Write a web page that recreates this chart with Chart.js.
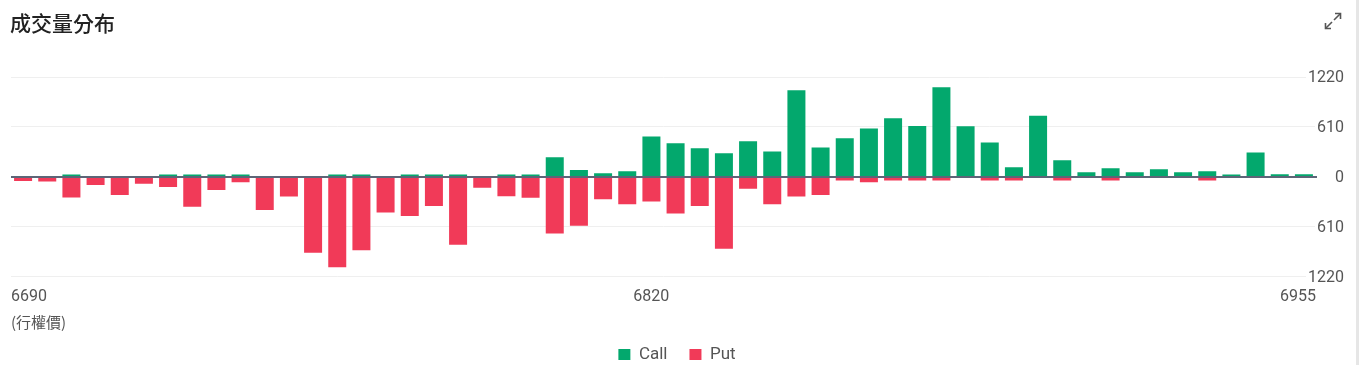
<!DOCTYPE html>
<html>
<head>
<meta charset="utf-8">
<script src="https://cdn.jsdelivr.net/npm/chart.js@4.4.1/dist/chart.umd.min.js"></script>
<style>
  html, body { margin: 0; padding: 0; background: #fff; }
  #wrap { position: relative; width: 1359px; height: 365px; overflow: hidden; }
  #title { position: absolute; left: 10px; top: 10px; font: 500 21px "Noto Sans CJK TC", "Noto Sans", sans-serif; color: #222; line-height: 24px; }
  #expand { position: absolute; left: 1323px; top: 11px; }
  #edge { position: absolute; right: 0; top: 0; width: 3px; height: 365px; background: #e6e6e6; }
  #chart_volumeDist { position: absolute; left: 0; top: 0; }
</style>
</head>
<body>
<div id="wrap">
  <canvas id="chart_volumeDist" width="1359" height="365"></canvas>
  <div id="title">成交量分布</div>
  <svg id="expand" width="20" height="20" viewBox="0 0 20 20">
    <g stroke="#555" stroke-width="1.6" fill="none">
      <line x1="11" y1="9" x2="17" y2="3"/>
      <polyline points="12,2.5 17.5,2.5 17.5,8"/>
      <line x1="9" y1="11" x2="3" y2="17"/>
      <polyline points="2.5,12 2.5,17.5 8,17.5"/>
    </g>
  </svg>
  <div id="edge"></div>
</div>
<script>
// strikes 6690 .. 6955, step 5
var strikes = [
  6690, 6695, 6700, 6705, 6710, 6715, 6720, 6725, 6730, 6735,
  6740, 6745, 6750, 6755, 6760, 6765, 6770, 6775, 6780, 6785,
  6790, 6795, 6800, 6805, 6810, 6815, 6820, 6825, 6830, 6835,
  6840, 6845, 6850, 6855, 6860, 6865, 6870, 6875, 6880, 6885,
  6890, 6895, 6900, 6905, 6910, 6915, 6920, 6925, 6930, 6935,
  6940, 6945, 6950, 6955
];
var callVolume = [
  0, 0, 30, 0, 0, 0, 30, 30, 30, 30,
  0, 0, 0, 30, 30, 0, 30, 30, 30, 0,
  30, 30, 240, 85, 45, 69, 492, 411, 350, 289,
  435, 309, 1057, 358, 472, 590, 716, 622, 1094, 618,
  419, 118, 748, 203, 57, 106, 57, 94, 57, 69,
  28, 297, 33, 33
];
var putVolume = [
  49, 57, 252, 98, 220, 85, 122, 366, 159, 65,
  403, 240, 927, 1102, 895, 435, 476, 354, 830, 134,
  236, 256, 691, 598, 272, 334, 301, 447, 354, 878,
  146, 334, 240, 220, 45, 65, 45, 45, 45, 0,
  45, 45, 0, 45, 0, 45, 0, 0, 0, 45,
  0, 0, 0, 0
];
var shownStrikes = [6690, 6820, 6955];
var yTicks = [-1220, -610, 0, 610, 1220];

var putNegative = putVolume.map(function (v) { return -v; });

var chart_volumeDist = new Chart(document.getElementById('chart_volumeDist'), {
    type: 'bar',
    data: {
        labels: strikes,
        datasets: [
            {
                label: 'Call',
                data: callVolume,
                backgroundColor: '#03a86d',
                borderWidth: 0,
                barPercentage: 0.745,
                categoryPercentage: 1
            },
            {
                label: 'Put',
                data: putNegative,
                backgroundColor: '#f13a58',
                borderWidth: 0,
                barPercentage: 0.745,
                categoryPercentage: 1
            }
        ]
    },
    options: {
        animation: false,
        responsive: false,
        layout: {
            padding: { left: 10, right: 15, top: 77, bottom: -8 }
        },
        plugins: {
            title: { display: false },
            tooltip: { enabled: false },
            legend: {
                position: 'bottom',
                labels: {
                    boxWidth: 12,
                    boxHeight: 11,
                    padding: 22,
                    color: '#555',
                    font: { family: 'Roboto', size: 17 }
                }
            }
        },
        scales: {
            x: {
                stacked: true,
                display: false
            },
            x2: {
                type: 'category',
                labels: strikes,
                position: 'bottom',
                offset: false,
                grid: { display: false, offset: false, drawTicks: false },
                border: { display: false },
                ticks: {
                    autoSkip: false,
                    maxRotation: 0,
                    align: 'inner',
                    padding: 11,
                    color: '#555',
                    font: { family: 'Roboto', size: 16 },
                    callback: function (value, index) {
                        var s = strikes[index];
                        return shownStrikes.indexOf(s) >= 0 ? String(s) : '';
                    }
                },
                title: {
                    display: true,
                    text: '(行權價)',
                    align: 'start',
                    color: '#555',
                    padding: { top: -5, bottom: -7 },
                    font: { family: '"Noto Sans CJK TC", Roboto', size: 15 }
                }
            },
            y: {
                stacked: true,
                position: 'right',
                min: yTicks[0],
                max: yTicks[yTicks.length - 1],
                afterBuildTicks: function (scale) {
                    scale.ticks = yTicks.map(function (v) { return { value: v }; });
                },
                afterFit: function (scale) {
                    scale.width = 28;
                },
                grid: { color: '#efefef', lineWidth: 1, drawTicks: false },
                border: { display: false },
                ticks: { display: false }
            }
        }
    },
    plugins: [{
        id: 'zeroLine',
        afterDatasetsDraw: function (chart) {
            var ctx = chart.ctx;
            var y0 = chart.scales.y.getPixelForValue(0);
            ctx.save();
            ctx.strokeStyle = '#5d6577';
            ctx.lineWidth = 2;
            ctx.beginPath();
            ctx.moveTo(chart.chartArea.left, y0);
            ctx.lineTo(chart.chartArea.right + 1, y0);
            ctx.stroke();
            ctx.restore();
        }
    }, {
        // right-side value labels, shown as absolute volumes
        id: 'yLabels',
        afterDraw: function (chart) {
            var ctx = chart.ctx;
            var scale = chart.scales.y;
            ctx.save();
            ctx.font = '16px Roboto';
            ctx.textAlign = 'right';
            ctx.textBaseline = 'middle';
            yTicks.forEach(function (v) {
                var y = scale.getPixelForValue(v);
                var text = String(Math.abs(v));
                var w = ctx.measureText(text).width;
                ctx.fillStyle = '#fff';
                ctx.fillRect(scale.right - w - 2, y - 9, w + 2, 18);
                ctx.fillStyle = '#555';
                ctx.fillText(text, scale.right, y + 1);
            });
            ctx.restore();
        }
    }, {
        id: 'whiteBackground',
        beforeDraw: function (chart) {
            var ctx = chart.ctx;
            ctx.save();
            ctx.globalCompositeOperation = 'destination-over';
            ctx.fillStyle = 'white';
            ctx.fillRect(0, 0, chart.width, chart.height);
            ctx.restore();
        }
    }]
});
</script>
</body>
</html>
